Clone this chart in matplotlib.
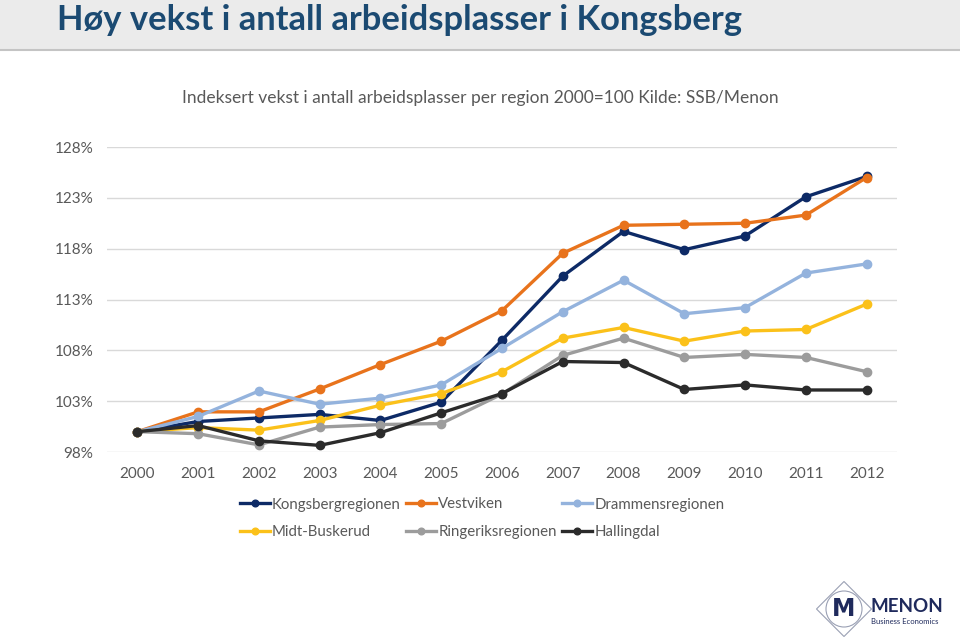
import matplotlib
matplotlib.use("Agg")
import matplotlib.pyplot as plt
from matplotlib.patches import Rectangle, Circle, Polygon

# Data (index 2000 = 100)
years = ["2000", "2001", "2002", "2003", "2004", "2005", "2006",
         "2007", "2008", "2009", "2010", "2011", "2012"]
kongsberg = [100.0, 101.0, 101.35, 101.7, 101.1, 102.9, 109.0, 115.3, 119.7, 117.9, 119.25, 123.1, 125.1]
vestviken = [100.0, 101.95, 101.95, 104.2, 106.6, 108.9, 111.9, 117.55, 120.3, 120.4, 120.5, 121.3, 125.0]
drammen = [100.0, 101.5, 104.0, 102.7, 103.3, 104.6, 108.2, 111.8, 114.9, 111.6, 112.2, 115.6, 116.5]
midt_buskerud = [100.0, 100.4, 100.15, 101.1, 102.6, 103.75, 105.9, 109.2, 110.25, 108.9, 109.9, 110.05, 112.55]
ringerike = [100.0, 99.8, 98.7, 100.45, 100.7, 100.8, 103.7, 107.5, 109.2, 107.3, 107.6, 107.3, 105.9]
hallingdal = [100.0, 100.6, 99.1, 98.65, 99.9, 101.85, 103.75, 106.9, 106.8, 104.15, 104.6, 104.1, 104.1]

series = [
    ("Kongsbergregionen", kongsberg, "#0d2a66"),
    ("Vestviken", vestviken, "#e8731c"),
    ("Drammensregionen", drammen, "#94b3dd"),
    ("Midt-Buskerud", midt_buskerud, "#fbc11a"),
    ("Ringeriksregionen", ringerike, "#9c9c9c"),
    ("Hallingdal", hallingdal, "#2b2b2b"),
]

W, H = 960, 641
fig = plt.figure(figsize=(W / 100, H / 100), dpi=100)
fig.patch.set_facecolor("white")

def fx(px):
    return px / W

def fy(py):
    return 1 - py / H

# Title band
fig.patches.append(Rectangle((0, fy(50)), 1, 50 / H, transform=fig.transFigure,
                             facecolor="#ebebeb", edgecolor="none", zorder=0))
fig.lines.append(plt.Line2D([0, 1], [fy(50), fy(50)], transform=fig.transFigure,
                            color="#c4c4c4", lw=1.5))
fig.text(fx(57), fy(20), "Høy vekst i antall arbeidsplasser i Kongsberg",
         fontsize=24.8, fontweight="bold", color="#1b4a72",
         family="Lato", va="center", ha="left")

fig.text(fx(480), fy(98), "Indeksert vekst i antall arbeidsplasser per region 2000=100 Kilde: SSB/Menon",
         fontsize=12.5, color="#595959", family="Lato", ha="center", va="center")

# Plot area
ax = fig.add_axes([fx(107), fy(452), fx(897) - fx(107), (452 - 147) / H])
x = list(range(len(years)))
lines = {}
for name, vals, col in series:
    ln, = ax.plot(x, vals, color=col, lw=2.4, marker="o", markersize=6, label=name, clip_on=False)
    lines[name] = ln

ax.set_xlim(-0.5, len(years) - 0.5)
ax.set_ylim(98, 128)
ax.set_yticks(range(98, 129, 5))
ax.set_yticklabels([f"{v}%" for v in range(98, 129, 5)])
ax.set_xticks(x)
ax.set_xticklabels(years)
ax.grid(axis="y", color="#d9d9d9", lw=1)
ax.set_axisbelow(True)
for s in ax.spines.values():
    s.set_visible(False)
ax.tick_params(length=0, labelsize=11, labelcolor="#595959")
ax.tick_params(axis="x", pad=11)
ax.tick_params(axis="y", pad=10)
for lab in ax.get_xticklabels() + ax.get_yticklabels():
    lab.set_family("Lato")

# Legend, filled row by row like the original
order = ["Kongsbergregionen", "Midt-Buskerud", "Vestviken",
         "Ringeriksregionen", "Drammensregionen", "Hallingdal"]
leg = fig.legend([lines[n] for n in order], order, ncol=3, loc="upper left",
                 bbox_to_anchor=(fx(226), fy(484)), frameon=False,
                 prop={"family": "Lato", "size": 10.8}, handlelength=2.0,
                 handletextpad=0.15, columnspacing=0.35, labelspacing=0.9,
                 markerscale=0.8)
for t in leg.get_texts():
    t.set_color("#595959")

# Menon logo (simplified)
logo_ax = fig.add_axes([fx(814), fy(640), fx(60), 62 / H])
logo_ax.set_xlim(-1.2, 1.2)
logo_ax.set_ylim(-1.2, 1.2)
logo_ax.set_aspect("equal")
logo_ax.axis("off")
logo_ax.add_patch(Circle((0, 0), 0.72, fill=False, ec="#9aa0b4", lw=0.8))
logo_ax.add_patch(Polygon([[-1.1, 0], [0, 1.1], [1.1, 0], [0, -1.1]], closed=True,
                          fill=False, ec="#9aa0b4", lw=0.8))
logo_ax.text(0, -0.02, "M", ha="center", va="center", fontsize=17, fontweight="bold",
             color="#1f2a5c", family="DejaVu Sans")
fig.text(fx(870), fy(607), "MENON", fontsize=13.5, fontweight="bold", color="#1f2a5c",
         family="Lato", ha="left", va="center")
fig.text(fx(871), fy(622), "Business Economics", fontsize=5.5, color="#1f2a5c",
         family="Lato", ha="left", va="center")

fig.savefig("out.png", dpi=100)
